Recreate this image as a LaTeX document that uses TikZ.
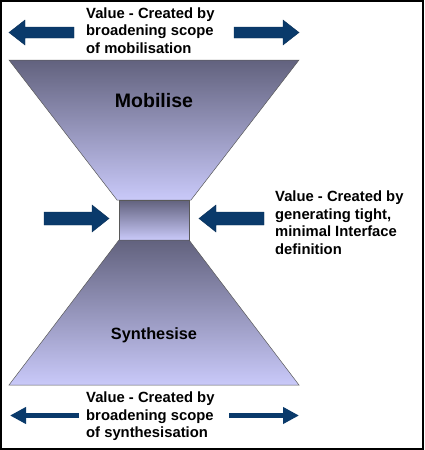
\documentclass[tikz,border=0pt]{standalone}
\usepackage{fontspec}
\setmainfont{Liberation Sans}
\usetikzlibrary{arrows.meta}
\definecolor{funneldark}{HTML}{62627E}
\definecolor{funnellight}{HTML}{C9C9F9}
\definecolor{navy}{HTML}{0A3A6B}
\tikzset{
  funnel/.style={draw=gray!70!black, line width=0.5pt, top color=funneldark, bottom color=funnellight},
  blockarrow/.style={fill=navy, draw=navy!80!black, line width=0.4pt},
  thinarrow/.style={draw=navy, line width=4.5pt, -{Triangle[length=16pt,width=16pt]}},
  valuetext/.style={anchor=north west, inner sep=0pt, align=left, font=\bfseries\fontsize{14.8}{17.5}\selectfont},
  stagelabel/.style={inner sep=0pt, font=\bfseries}
}
\begin{document}
\begin{tikzpicture}[x=1pt,y=-1pt]
\useasboundingbox (0,0) rectangle (424,450);
\draw[line width=1.5pt] (1,1) rectangle (423,449);

% top trapezoid
\path[funnel] (9,60) -- (299,60) -- (191,200) -- (117,200) -- cycle;
% box
\path[funnel] (119,200) rectangle (189,240);
% bottom trapezoid
\path[funnel] (119,240) -- (189,240) -- (299,385) -- (9,385) -- cycle;

\node[stagelabel, font=\bfseries\fontsize{19.5}{22}\selectfont] (mob) at (154,101) {Mobilise};
\node[stagelabel, font=\bfseries\fontsize{16.3}{19}\selectfont] (syn) at (154,335.5) {Synthesise};

% top block arrows
\path[blockarrow] (9,32.5) -- (25,20) -- (25,27) -- (74,27) -- (74,38) -- (25,38) -- (25,45) -- cycle;
\path[blockarrow] (299,32.5) -- (283,20) -- (283,27) -- (234,27) -- (234,38) -- (283,38) -- (283,45) -- cycle;

% middle block arrows
\path[blockarrow] (109,218.5) -- (92,205) -- (92,212) -- (44,212) -- (44,225) -- (92,225) -- (92,232) -- cycle;
\path[blockarrow] (199,218.5) -- (216,205) -- (216,212) -- (264,212) -- (264,225) -- (216,225) -- (216,232) -- cycle;

% bottom thin arrows
\coordinate (bl0) at (79,415.5);
\coordinate (bl1) at (10,415.5);
\coordinate (br0) at (229,415.5);
\coordinate (br1) at (299,415.5);
\draw[thinarrow] (bl0) -- (bl1);
\draw[thinarrow] (br0) -- (br1);

% texts
\node[valuetext] (ttop) at (86,7.2) {Value - Created by\\broadening scope\\of mobilisation};
\node[valuetext] (tmid) at (275,191) {Value - Created by\\generating tight,\\minimal Interface\\definition};
\node[valuetext] (tbot) at (86,392) {Value - Created by\\broadening scope\\of synthesisation};
\end{tikzpicture}
\end{document}
